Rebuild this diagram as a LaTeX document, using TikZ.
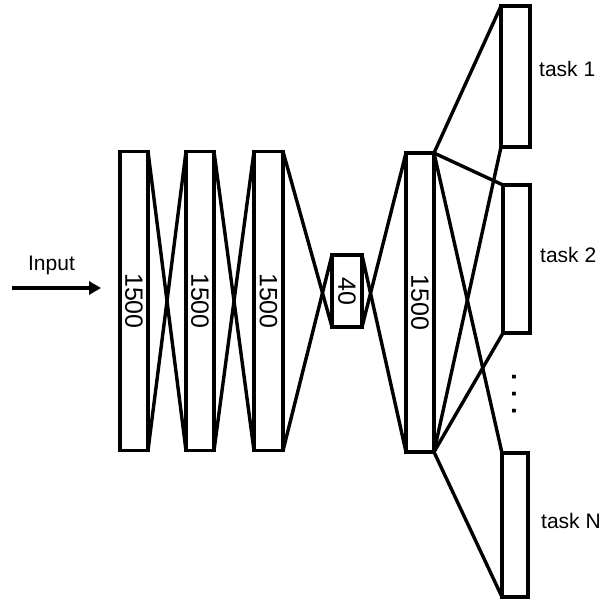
\documentclass[tikz,border=0pt]{standalone}
\usepackage{fontspec}
\setmainfont{Liberation Sans}
\usetikzlibrary{arrows.meta}
\tikzset{
  layer/.style={draw=black, line width=3.2pt, fill=white, inner sep=0pt, outer sep=0pt, font=\fontsize{25}{30}\selectfont},
  link/.style={line width=3.4pt, line cap=round},
  lbl/.style={anchor=base west, inner sep=0pt, font=\fontsize{21}{25}\selectfont},
  inarrow/.style={line width=3.6pt, -{Triangle[length=12pt,width=13pt]}}
}
\begin{document}
\begin{tikzpicture}[x=1pt,y=-1pt]
\useasboundingbox (0,0) rectangle (606,603);
% layers
\node[layer, minimum width=28pt, minimum height=299pt] (b1) at (134,301) {\rotatebox{-90}{1500}};
\node[layer, minimum width=28pt, minimum height=299pt] (b2) at (200,301) {\rotatebox{-90}{1500}};
\node[layer, minimum width=29pt, minimum height=299pt] (b3) at (268.5,301) {\rotatebox{-90}{1500}};
\node[layer, minimum width=30pt, minimum height=72pt] (b4) at (347,291) {\rotatebox{-90}{40}};
\node[layer, minimum width=28pt, minimum height=299pt] (b5) at (420,302.5) {\rotatebox{-90}{1500}};
\node[layer, minimum width=29pt, minimum height=141pt] (t1) at (515.5,76.5) {};
\node[layer, minimum width=27pt, minimum height=148pt] (t2) at (516.5,259) {};
\node[layer, minimum width=26pt, minimum height=144pt] (tN) at (515,525) {};
% connections
\draw[link] (b1.north east) -- (b2.south west);
\draw[link] (b1.south east) -- (b2.north west);
\draw[link] (b2.north east) -- (b3.south west);
\draw[link] (b2.south east) -- (b3.north west);
\draw[link] (b3.north east) -- (b4.south west);
\draw[link] (b3.south east) -- (b4.north west);
\draw[link] (b4.north east) -- (b5.south west);
\draw[link] (b4.south east) -- (b5.north west);
\draw[link] (b5.north east) -- (t1.north west);
\draw[link] (b5.south east) -- (t1.south west);
\draw[link] (b5.north east) -- (t2.north west);
\draw[link] (b5.south east) -- (t2.south west);
\draw[link] (b5.north east) -- (tN.north west);
\draw[link] (b5.south east) -- (tN.south west);
% labels
\node[lbl] (l1) at (539,76) {task 1};
\node[lbl] (l2) at (540,262) {task 2};
\node[lbl] (lN) at (541,528) {task N};
\node[inner sep=0pt, font=\fontsize{26}{30}\selectfont\bfseries] (dots) at (514,394) {\rotatebox{-90}{. . .}};
% input
\node[anchor=base, inner sep=0pt, font=\fontsize{21}{25}\selectfont] (inp) at (51.5,270) {Input};
\coordinate (a0) at (12,288);
\coordinate (a1) at (101,288);
\draw[inarrow] (a0) -- (a1);
\end{tikzpicture}
\end{document}
